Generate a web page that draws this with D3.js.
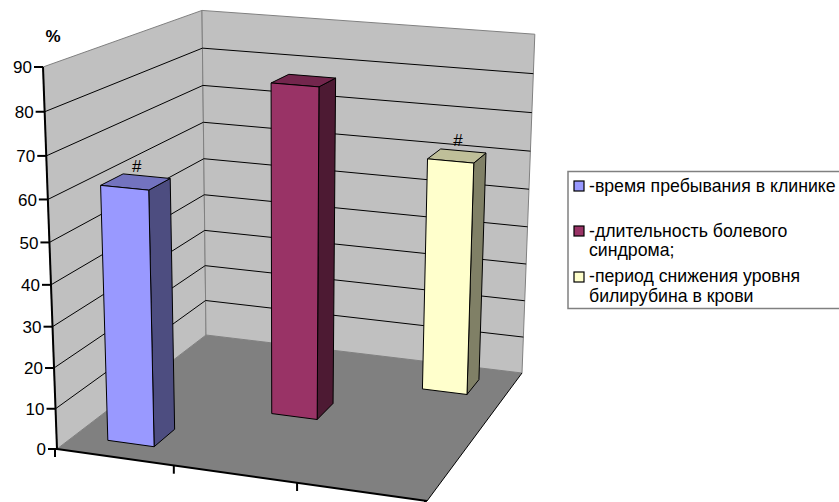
<!DOCTYPE html>
<html><head><meta charset="utf-8">
<script src="https://cdn.jsdelivr.net/npm/d3@7"></script>
<style>html,body{margin:0;padding:0;background:#fff;overflow:hidden}svg{display:block;font-family:"Liberation Sans",Arial,sans-serif}</style>
</head><body><svg id="c" width="839" height="502"></svg>
<script>
// Chart data
const categories = ["время пребывания", "длительность боли", "снижение билирубина"];
const seriesValues = [62, 82.6, 60.6];
const markers = ["#", "", "#"];
const valueTicks = [0,10,20,30,40,50,60,70,80,90];
const frontFills = ["#9999ff","#993366","#ffffcc"];
const topFills = ["#7373bf","#73264d","#bfbf99"];
const sideFills = ["#4d4d80","#4d1a33","#808066"];
const legendLines = [
  ["-время пребывания в клинике"],
  ["-длительность болевого","синдрома;"],
  ["-период снижения уровня","билирубина в крови"]
];

// Plot box corners on the page, used to fit the perspective projection
const A=[57,449,1],B=[43,67,1],C=[206,335,1],D=[202,12,1],E=[522,373,1],G=[427,501,1];
function det(m){return m[0][0]*(m[1][1]*m[2][2]-m[1][2]*m[2][1])-m[0][1]*(m[1][0]*m[2][2]-m[1][2]*m[2][0])+m[0][2]*(m[1][0]*m[2][1]-m[1][1]*m[2][0]);}
function solve(p,q,r,s){
  const M=[[p[0],q[0],r[0]],[p[1],q[1],r[1]],[p[2],q[2],r[2]]],dd=det(M);
  return [0,1,2].map(k=>det(M.map((row,i)=>row.map((v,j)=>j===k?s[i]:v)))/dd);
}
const neg=v=>v.map(x=>-x);
const [ka,kc]=solve(G,C,neg(E),A);
const [kb]=solve(B,C,neg(D),A);
const axisVec=(p,k)=>p.map((x,i)=>k*x-A[i]);
const cu=axisVec(G,ka),cv=axisVec(B,kb),cw=axisVec(C,kc);
function project(u,v,w){
  const h=[0,1,2].map(i=>cu[i]*u+cv[i]*v+cw[i]*w+A[i]);
  return [h[0]/h[2],h[1]/h[2]];
}

// Scales in box units: each category also sits on its own depth row
const value=d3.scaleLinear().domain([0,90]).range([0,1]);
const across=d3.scaleBand().domain(categories).range([-0.004,0.996]).paddingInner(0.604).paddingOuter(0.302);
const depth=d3.scaleBand().domain(categories).range([0,1]).paddingInner(0.6).paddingOuter(0.3);

const svg=d3.select("#c");
const poly=pts=>d3.line()(pts)+"Z";
const box=(u,v,w)=>project(u,v,w);

// Walls and floor
svg.append("path").attr("d",poly([box(0,0,0),box(0,1,0),box(0,1,1),box(0,0,1)]))
  .attr("fill","#c0c0c0").attr("stroke","#808080").attr("stroke-width",1);
svg.append("path").attr("d",poly([box(0,0,1),box(0,1,1),box(1,1,1),box(1,0,1)]))
  .attr("fill","#c0c0c0").attr("stroke","#808080").attr("stroke-width",1);
svg.append("path").attr("d",poly([box(0,0,0),box(1,0,0),box(1,0,1),box(0,0,1)]))
  .attr("fill","#808080");

// Gridlines on both walls
svg.append("g").selectAll("path").data(valueTicks.filter(t=>t>0&&t<90)).join("path")
  .attr("d",t=>d3.line()([box(0,value(t),0),box(0,value(t),1),box(1,value(t),1)]))
  .attr("fill","none").attr("stroke","#000").attr("stroke-width",1);

// Floor edge and axes
svg.append("path").attr("d",d3.line()([box(1,0,0),box(1,0,1)])).attr("stroke","#000").attr("fill","none");
svg.append("path").attr("d",d3.line()([box(0,0,0),box(1,0,0)])).attr("stroke","#000").attr("stroke-width",2).attr("fill","none");
svg.append("path").attr("d",d3.line()([box(0,0,0),box(0,1,0)])).attr("stroke","#000").attr("stroke-width",2).attr("fill","none");

// Value axis ticks and labels
const yAxis=svg.append("g").selectAll("g").data(valueTicks).join("g")
  .attr("transform",t=>`translate(${box(0,value(t),0)})`);
yAxis.append("line").attr("x1",-9).attr("x2",0).attr("stroke","#000").attr("stroke-width",2);
yAxis.append("text").attr("x",-11).attr("dy","0.36em").attr("text-anchor","end")
  .attr("font-size",17).attr("fill","#000").text(d=>d);

// Category axis ticks, at the band boundaries
svg.append("g").selectAll("line").data(d3.range(categories.length+1).map(i=>i/categories.length)).join("line")
  .attr("transform",u=>`translate(${box(u,0,0)})`)
  .attr("x1",-2).attr("x2",-2).attr("y1",0).attr("y2",8).attr("stroke","#000").attr("stroke-width",2);

// Bars, back to front
const order=d3.range(categories.length).reverse();
const bars=svg.append("g").selectAll("g").data(order).join("g");
bars.each(function(i){
  const g=d3.select(this),cat=categories[i];
  const u0=across(cat),u1=u0+across.bandwidth(),w0=depth(cat),w1=w0+depth.bandwidth(),v=value(seriesValues[i]);
  const face=(pts,fill)=>g.append("path").attr("d",poly(pts)).attr("fill",fill)
    .attr("stroke","#000").attr("stroke-width",1).attr("stroke-linejoin","round");
  face([box(u1,0,w0),box(u1,0,w1),box(u1,v,w1),box(u1,v,w0)],sideFills[i]);
  face([box(u0,v,w0),box(u1,v,w0),box(u1,v,w1),box(u0,v,w1)],topFills[i]);
  face([box(u0,0,w0),box(u1,0,w0),box(u1,v,w0),box(u0,v,w0)],frontFills[i]);
  if(markers[i]){
    const [x,y]=box((u0+u1)/2,v,(w0+w1)/2);
    g.append("text").attr("x",x+1).attr("y",y-10).attr("text-anchor","middle")
      .attr("font-size",17).attr("fill","#000").text(markers[i]);
  }
});

// Axis unit
svg.append("text").attr("x",53).attr("y",42).attr("text-anchor","middle")
  .attr("font-size",17).attr("font-weight","bold").attr("fill","#000").text("%");

// Legend, running off the right edge of the page
svg.append("rect").attr("x",568).attr("y",171.5).attr("width",290).attr("height",137)
  .attr("fill","#fff").attr("stroke","#808080").attr("stroke-width",1.5);
const swatchY=[186,231,277];
const baselines=[[192],[237,256],[282,302]];
legendLines.forEach((lines,i)=>{
  svg.append("rect").attr("x",574).attr("y",swatchY[i]-5).attr("width",10).attr("height",10)
    .attr("fill",frontFills[i]).attr("stroke","#000").attr("stroke-width",1.2);
  lines.forEach((s,j)=>svg.append("text").attr("x",589).attr("y",baselines[i][j])
    .attr("font-size",17.7).attr("fill","#000").text(s));
});
</script></body></html>
